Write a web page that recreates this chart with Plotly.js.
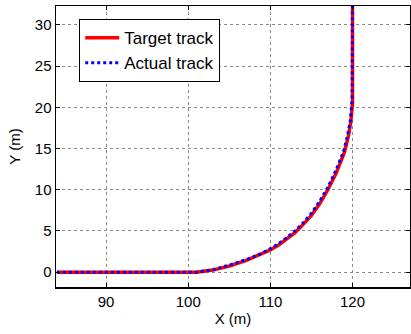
<!DOCTYPE html>
<html><head><meta charset="utf-8">
<script src="https://cdn.plot.ly/plotly-3.0.1.min.js"></script>
<style>html,body{margin:0;padding:0;background:#fff}#chart{width:411px;height:334px}</style>
</head><body><div id="chart"></div>
<script>
const targetX = [84, 101, 103, 105, 107, 109, 110, 111, 112, 113, 114, 115, 116, 117, 118, 119, 119.5, 119.8, 120, 120];
const targetY = [0, 0, 0.25, 0.75, 1.4, 2.2, 2.7, 3.3, 4.0, 4.8, 5.8, 6.9, 8.3, 10.0, 12.0, 14.5, 16.5, 18.3, 20.5, 33];
const actualX = [84, 101, 103, 105, 107, 109, 110, 111, 112, 113, 114, 115, 116, 117, 118, 118.9, 119.4, 119.75, 119.95, 120];
const actualY = [0, 0, 0.3, 0.85, 1.5, 2.3, 2.85, 3.45, 4.2, 5.0, 6.0, 7.15, 8.6, 10.3, 12.4, 14.6, 16.6, 18.5, 21, 33];
const xTicks = [90, 100, 110, 120];
const yTicks = [0, 5, 10, 15, 20, 25, 30];

const fontFam = 'Liberation Sans, Arial, sans-serif';
const axisCommon = {
  showgrid: true, gridcolor: '#8a8a8a', griddash: 'dot', gridwidth: 1,
  showline: true, linecolor: '#000', linewidth: 1.5, mirror: 'ticks',
  ticks: 'inside', ticklen: 4, tickcolor: '#000', zeroline: false,
  tickfont: {family: fontFam, size: 15, color: '#000'}
};
const layout = {
  width: 411, height: 334,
  margin: {l: 56, r: 1, t: 6, b: 47},
  paper_bgcolor: '#fff', plot_bgcolor: '#fff',
  showlegend: true,
  legend: {x: 0.065, y: 0.954, xanchor: 'left', yanchor: 'top',
    bgcolor: '#fff', bordercolor: '#000', borderwidth: 1.2,
    font: {family: fontFam, size: 17, color: '#000'},
    tracegroupgap: 0, itemwidth: 34},
  xaxis: Object.assign({}, axisCommon, {range: [83.9, 127], tickvals: xTicks,
    title: {text: 'X (m)', standoff: 5, font: {family: fontFam, size: 15, color: '#000'}}}),
  yaxis: Object.assign({}, axisCommon, {range: [-1.8, 32.3], tickvals: yTicks,
    title: {text: 'Y (m)', standoff: 10, font: {family: fontFam, size: 15, color: '#000'}}})
};
const data = [
  {x: targetX, y: targetY, mode: 'lines', name: 'Target track', line: {color: '#ff0000', width: 3.5}},
  {x: actualX, y: actualY, mode: 'lines', name: 'Actual track', line: {color: '#0000ff', width: 3, dash: 'dot'}}
];
Plotly.newPlot('chart', data, layout, {displayModeBar: false, staticPlot: true});
</script></body></html>
